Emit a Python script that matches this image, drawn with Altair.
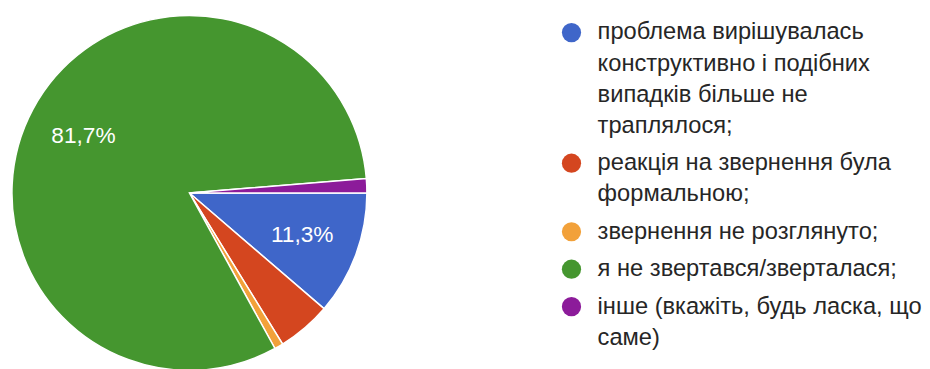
import math
import altair as alt
import pandas as pd

categories = [
    "проблема вирішувалась конструктивно і подібних випадків більше не траплялося;",
    "реакція на звернення була формальною;",
    "звернення не розглянуто;",
    "я не звертався/зверталася;",
    "інше (вкажіть, будь ласка, що саме)",
]
label_lines = [
    ["проблема вирішувалась", "конструктивно і подібних", "випадків більше не", "траплялося;"],
    ["реакція на звернення була", "формальною;"],
    ["звернення не розглянуто;"],
    ["я не звертався/зверталася;"],
    ["інше (вкажіть, будь ласка, що", "саме)"],
]
percentages = [11.3, 4.9, 0.8, 81.7, 1.3]
slice_labels = ["11,3%", "", "", "81,7%", ""]
colors = ["#3F66C9", "#D4461F", "#F2A13A", "#45962F", "#8C1B9A"]

FONT = "Liberation Sans"

pie_df = pd.DataFrame({
    "cat": categories,
    "idx": list(range(len(categories))),
    "value": percentages,
    "label": slice_labels,
})

color_scale = alt.Scale(domain=categories, range=colors)

base = alt.Chart(pie_df).encode(
    theta=alt.Theta("value:Q", stack=True,
                    scale=alt.Scale(domain=[0, 100], range=[math.pi / 2, math.pi * 2.5])),
    order=alt.Order("idx:Q"),
)

arcs = base.mark_arc(outerRadius=180, stroke="white", strokeWidth=1.5).encode(
    color=alt.Color("cat:N", scale=color_scale, legend=None)
)
pie_text = base.mark_text(radius=122, fontSize=23, font=FONT, color="white").encode(
    text="label:N", detail="cat:N"
)
pie = alt.layer(arcs, pie_text).properties(width=360, height=360)

# legend rows built from the label lines
GAP = 0.206
rows = []
start = 0.0
for cat, lines in zip(categories, label_lines):
    for j, t in enumerate(lines):
        rows.append({"cat": cat, "txt": t, "line": j, "pos": start + j})
    start += len(lines) + GAP
leg_df = pd.DataFrame(rows)

leg_base = alt.Chart(leg_df).encode(
    y=alt.Y("pos:Q", scale=alt.Scale(domain=[-0.55, 10.45], reverse=True), axis=None)
)
circles = leg_base.transform_filter("datum.line == 0").mark_circle(size=380, opacity=1).encode(
    x=alt.value(9.5),
    color=alt.Color("cat:N", scale=color_scale, legend=None),
)
texts = leg_base.mark_text(align="left", baseline="middle", fontSize=24, font=FONT,
                           color="#262626").encode(
    x=alt.value(36), text="txt:N"
)
legend = alt.layer(circles, texts).properties(width=330, height=346.5)

chart = alt.hconcat(pie, legend, spacing=194).properties(
    padding={"left": 1, "top": 2, "right": 0, "bottom": 0},
    background="white",
).configure_view(stroke=None)

chart.save("out.html", embed_options={"renderer": "svg", "actions": False})
